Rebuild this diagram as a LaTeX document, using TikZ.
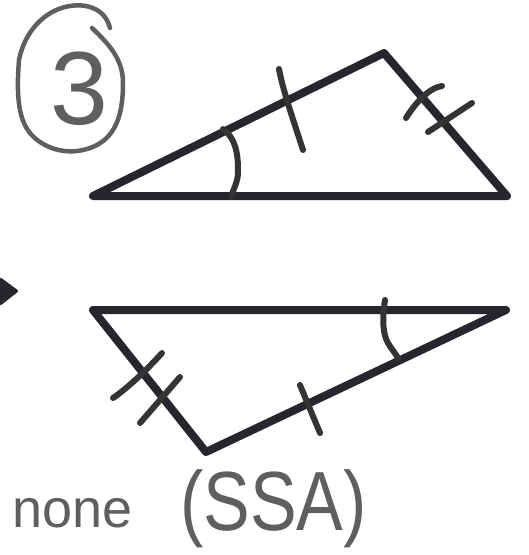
\documentclass[tikz,border=0pt]{standalone}
\usepackage{fontspec}
\setmainfont{Liberation Sans}
\usepackage{tikz}
\usetikzlibrary{positioning}
\definecolor{inkdark}{HTML}{26262E}
\definecolor{inkmark}{HTML}{343434}
\definecolor{inkgray}{HTML}{5F5F5F}
\tikzset{
  tri/.style={draw=inkdark,line width=8pt,line join=round,line cap=round},
  tickmark/.style={draw=inkmark,line width=6pt,line cap=round},
  pen/.style={draw=inkgray,line width=4.5pt,line cap=round,line join=round},
  hand/.style={text=inkgray,inner sep=0pt},
}
\begin{document}
\begin{tikzpicture}[x=1pt,y=-1pt]
  \useasboundingbox (0,0) rectangle (529,555);
  % top triangle
  \coordinate (l1) at (93,196);
  \coordinate (t1) at (384,53);
  \coordinate (r1) at (507,196);
  \draw[tri] (l1) -- (t1) -- (r1) -- cycle;
  \draw[tickmark] (279,69) .. controls (283,90) and (290,110) .. (303,150);
  \draw[tickmark] (223,129) .. controls (238,140) and (238,160) .. (238,172)
        .. controls (238,182) and (233,190) .. (231,197);
  \draw[tickmark] (406,118) .. controls (414,105) and (428,88) .. (442,86);
  \draw[tickmark] (428,132) -- (472,103);
  % number in a loop
  \node[hand,font=\fontsize{104}{104}\selectfont] (num) at (79,89) {3};
  \draw[pen] (110,28) .. controls (105,8) and (85,2) .. (65,7)
        .. controls (45,12) and (25,30) .. (19,60)
        .. controls (15,110) and (22,130) .. (40,142)
        .. controls (55,152) and (75,155) .. (95,146)
        .. controls (118,135) and (123,110) .. (123,83)
        .. controls (123,60) and (110,45) .. (92,28);
  % cut-off arrow head
  \fill[inkdark,rounded corners=2pt] (0,277) -- (19,291) -- (0,306) -- cycle;
  % bottom triangle
  \coordinate (l2) at (93,310);
  \coordinate (r2) at (506,310);
  \coordinate (b2) at (206,452);
  \draw[tri] (l2) -- (r2) -- (b2) -- cycle;
  \draw[tickmark] (385,300) .. controls (382,320) and (383,335) .. (388,343)
        .. controls (392,350) and (396,354) .. (398,358);
  \draw[tickmark] (300,385) -- (320,433);
  \draw[tickmark] (113,398) .. controls (125,390) and (145,372) .. (162,353);
  \draw[tickmark] (140,423) -- (180,377);
  % labels
  \node[hand,font=\fontsize{54}{54}\selectfont,anchor=base west] (none) at (12,527) {none};
  \node[hand,font=\fontsize{70}{70}\selectfont,yscale=1.2,anchor=base west] (ssa) at (180,530) {(SSA)};
\end{tikzpicture}
\end{document}
